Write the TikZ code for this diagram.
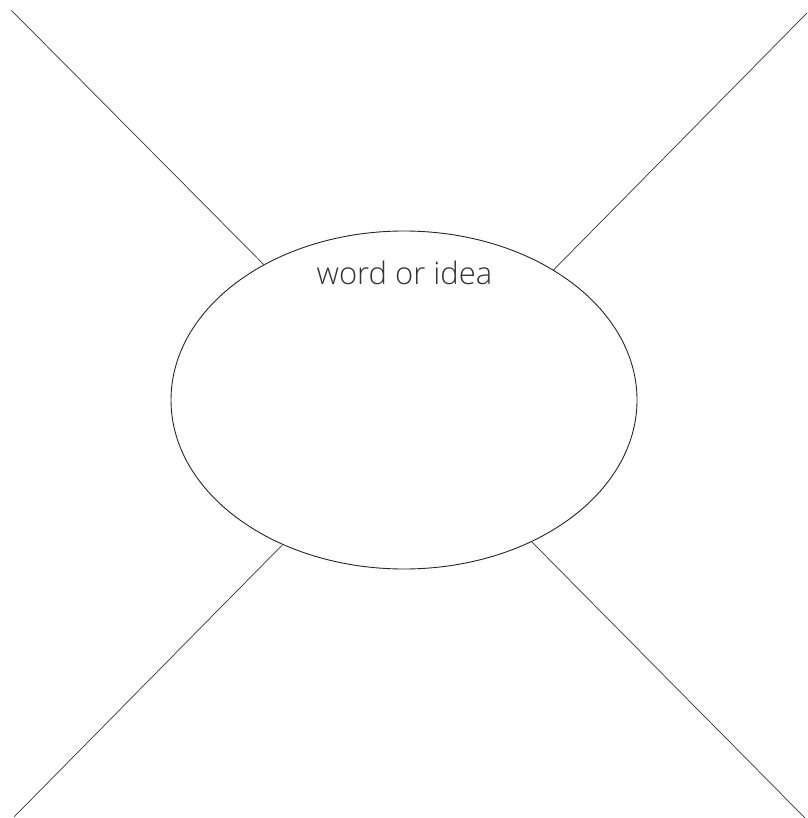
\documentclass[tikz,border=0pt]{standalone}
\usepackage{fontspec}
\setmainfont{Open Sans Light}
\usetikzlibrary{shapes.geometric}
\begin{document}
\begin{tikzpicture}[x=1pt,y=-1pt,
  bubble/.style={ellipse,draw=black!85,line width=0.9pt,minimum width=466pt,minimum height=338pt,inner sep=0pt,outer sep=0pt},
  spoke/.style={draw=black!80,line width=0.7pt},
  label/.style={font=\fontsize{31}{35}\selectfont,text=black!80,anchor=base,inner sep=0pt}]
\useasboundingbox (0,0) rectangle (807,818);
\node[bubble] (e) at (404,400) {};
\node[label] (t) at (404.5,284) {word or idea};
\coordinate (tl) at (11,10);
\coordinate (tr) at (807,13);
\coordinate (bl) at (14,817);
\coordinate (br) at (805,818);
\draw[spoke] (tl) -- (e.136.2);
\draw[spoke] (tr) -- (e.41.1);
\draw[spoke] (bl) -- (e.230.2);
\draw[spoke] (br) -- (e.312.9);
\end{tikzpicture}
\end{document}
